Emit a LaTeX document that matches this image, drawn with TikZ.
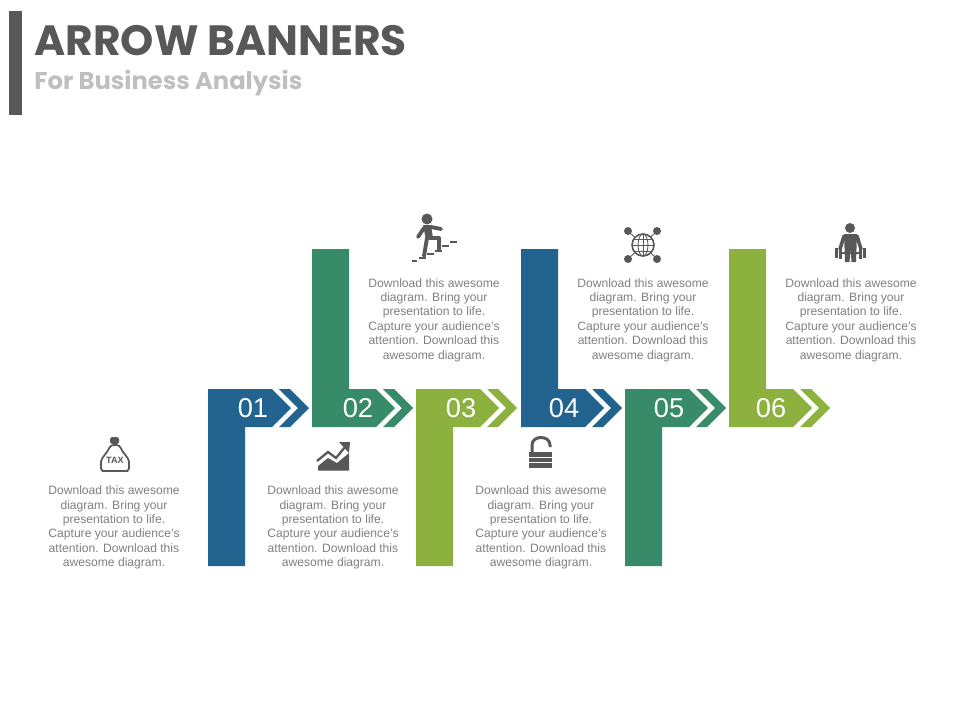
\documentclass[tikz,border=0pt]{standalone}
\usepackage{fontspec}
\setmainfont{Liberation Sans}
\newfontfamily\titlefont{Poppins}
\definecolor{bluebar}{HTML}{22638F}
\definecolor{greenbar}{HTML}{378B68}
\definecolor{limebar}{HTML}{8DB13F}
\definecolor{darkgray}{HTML}{58585A}
\definecolor{bodygray}{HTML}{7F7F7F}
\definecolor{lightgray}{HTML}{BFBFBF}

\begin{document}
\begin{tikzpicture}[
    x=0.02cm, y=-0.02cm,
    every node/.style={inner sep=0pt},
    title/.style={font=\titlefont\bfseries\fontsize{24.1}{26}\selectfont, text=darkgray, anchor=west},
    subtitle/.style={font=\titlefont\bfseries\fontsize{13.8}{16}\selectfont, text=lightgray, anchor=west},
    number/.style={font=\fontsize{15.5}{18}\selectfont, text=white},
    bodytext/.style={font=\fontsize{6.9}{8.2}\selectfont, text=bodygray, align=center},
    icon/.style={fill=darkgray, draw=none},
    iconline/.style={draw=darkgray, line width=0.75pt, fill=none},
    limb/.style={draw=darkgray, line width=2.2pt, line cap=round, line join=round}
]
\useasboundingbox (0,0) rectangle (960,720);

% Title
\fill[darkgray] (9,11) rectangle (22,115);
\node[title] (title) at (34,41) {ARROW BANNERS};
\node[subtitle] (subtitle) at (34,83) {For Business Analysis};

% Banners going down
\fill[bluebar] (208,389) -- (272,389) -- (291,408) -- (272,427) -- (245,427) -- (245,566) -- (208,566) -- cycle;
\fill[limebar] (416,389) -- (480,389) -- (499,408) -- (480,427) -- (453,427) -- (453,566) -- (416,566) -- cycle;
\fill[greenbar] (625,389) -- (689,389) -- (708,408) -- (689,427) -- (662,427) -- (662,566) -- (625,566) -- cycle;

% Banners going up
\fill[greenbar] (312,249) -- (349,249) -- (349,389) -- (376,389) -- (395,408) -- (376,427) -- (312,427) -- cycle;
\fill[bluebar] (521,249) -- (558,249) -- (558,389) -- (585,389) -- (604,408) -- (585,427) -- (521,427) -- cycle;
\fill[limebar] (729,249) -- (766,249) -- (766,389) -- (793,389) -- (812,408) -- (793,427) -- (729,427) -- cycle;

% Chevrons
\fill[bluebar] (279,389) -- (290,389) -- (309,408) -- (290,427) -- (279,427) -- (298,408) -- cycle;
\fill[greenbar] (383,389) -- (394,389) -- (413,408) -- (394,427) -- (383,427) -- (402,408) -- cycle;
\fill[limebar] (487,389) -- (498,389) -- (517,408) -- (498,427) -- (487,427) -- (506,408) -- cycle;
\fill[bluebar] (592,389) -- (603,389) -- (622,408) -- (603,427) -- (592,427) -- (611,408) -- cycle;
\fill[greenbar] (696,389) -- (707,389) -- (726,408) -- (707,427) -- (696,427) -- (715,408) -- cycle;
\fill[limebar] (800,389) -- (811,389) -- (830,408) -- (811,427) -- (800,427) -- (819,408) -- cycle;

% Numbers
\node[number] (n1) at (253,408) {01};
\node[number] (n2) at (358,408) {02};
\node[number] (n3) at (461,408) {03};
\node[number] (n4) at (564,408) {04};
\node[number] (n5) at (669,408) {05};
\node[number] (n6) at (771,408) {06};

% Text
\node[bodytext] (t1) at (114,527.5) {Download this awesome\\diagram. Bring your\\presentation to life.\\Capture your audience’s\\attention. Download this\\awesome diagram.};
\node[bodytext] (t2) at (333,527.5) {Download this awesome\\diagram. Bring your\\presentation to life.\\Capture your audience’s\\attention. Download this\\awesome diagram.};
\node[bodytext] (t3) at (434,320) {Download this awesome\\diagram. Bring your\\presentation to life.\\Capture your audience’s\\attention. Download this\\awesome diagram.};
\node[bodytext] (t4) at (541,527.5) {Download this awesome\\diagram. Bring your\\presentation to life.\\Capture your audience’s\\attention. Download this\\awesome diagram.};
\node[bodytext] (t5) at (643,320) {Download this awesome\\diagram. Bring your\\presentation to life.\\Capture your audience’s\\attention. Download this\\awesome diagram.};
\node[bodytext] (t6) at (851,320) {Download this awesome\\diagram. Bring your\\presentation to life.\\Capture your audience’s\\attention. Download this\\awesome diagram.};

% Tax bag
\draw[iconline, line width=1pt, rounded corners=2pt] (110,445) .. controls (108,452) and (101,458) .. (101,465) .. controls (101,469) and (103,471) .. (106,471) -- (124,471) .. controls (127,471) and (129,469) .. (129,465) .. controls (129,458) and (122,452) .. (120,445) -- cycle;
\fill[icon, rounded corners=1pt] (110,437) rectangle (119,444);
\node[font=\bfseries\fontsize{5.2}{5}\selectfont, text=darkgray] (tax) at (115,460) {TAX};

% Chart
\fill[icon] (318,470.5) -- (318,466) -- (328,458) -- (337,463) -- (349,453) -- (349,470.5) -- cycle;
\draw[iconline, line width=1.3pt] (317,461) -- (328,452) -- (336,458) -- (345,447);
\fill[icon] (339,442) -- (350,442) -- (349,453) -- cycle;

% Stairs man
\fill[icon] (427,219) circle (5.5);
\fill[icon] (423,225) -- (431,225) -- (433,238) -- (426,240) -- cycle;
\draw[limb] (424,228) -- (418,237);
\draw[limb] (431,227) -- (441,229);
\draw[limb] (430,238) -- (439,238) -- (439,249);
\draw[limb] (427,238) -- (424,256);
\fill[icon] (412,260) rectangle (417,262);
\fill[icon] (419,256.5) rectangle (426,258.5);
\fill[icon] (427,253) rectangle (434,255);
\fill[icon] (435,250) rectangle (442,252);
\fill[icon] (442,245) rectangle (449,247);
\fill[icon] (450,241) rectangle (457,243);

% Globe
\draw[iconline, line width=0.5pt] (628,231) -- (657,259);
\draw[iconline, line width=0.5pt] (657,231) -- (628,259);
\fill[white] (643,245) circle (11);
\draw[iconline, line width=0.9pt] (643,245) circle (11);
\draw[iconline, line width=0.5pt] (643,245) ellipse (5 and 11);
\draw[iconline, line width=0.5pt] (632,245) -- (654,245);
\draw[iconline, line width=0.5pt] (634,239) -- (652,239);
\draw[iconline, line width=0.5pt] (634,251) -- (652,251);
\draw[iconline, line width=0.5pt] (643,234) -- (643,256);
\fill[icon] (628,231) circle (4);
\fill[icon] (657,231) circle (4);
\fill[icon] (628,259) circle (4);
\fill[icon] (657,259) circle (4);

% Weight man
\fill[icon] (850,228) circle (5);
\fill[icon] (844,234) -- (857,234) -- (856,262) -- (851.5,262) -- (850.5,248) -- (849.5,262) -- (845,262) -- cycle;
\draw[limb, line width=2pt] (844,236) -- (840,249);
\draw[limb, line width=2pt] (857,236) -- (861,249);
\fill[icon] (835,248) rectangle (838,258);
\fill[icon] (839,247) rectangle (842,259);
\fill[icon] (859,247) rectangle (862,259);
\fill[icon] (863,248) rectangle (866,258);
\fill[icon] (842,252) rectangle (859,254);

% Lock
\draw[darkgray, line width=1.7pt] (532,452) -- (532,445) .. controls (532,435) and (550,435) .. (550,445) -- (550,447);
\fill[icon] (529,452) rectangle (552,456.5);
\fill[icon] (529,458) rectangle (552,461.5);
\fill[icon] (529,463) rectangle (552,468);
\end{tikzpicture}
\end{document}
